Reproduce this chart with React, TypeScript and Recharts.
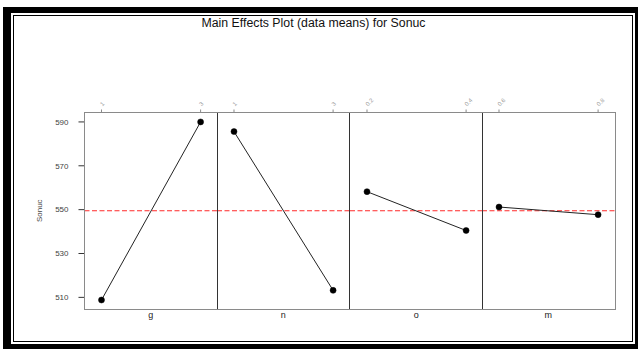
import React from 'react';
import { LineChart, Line, XAxis, YAxis, ReferenceLine } from 'recharts';

const factors = ['g', 'n', 'o', 'm'];
const gLevels = ['1', '3'];
const gMeans = [508.8, 590.0];
const nLevels = ['1', '3'];
const nMeans = [585.6, 513.2];
const oLevels = ['0.2', '0.4'];
const oMeans = [558.2, 540.5];
const mLevels = ['0.6', '0.8'];
const mMeans = [551.2, 547.7];
const grandMean = 549.5;
const yTicks = [510, 530, 550, 570, 590];
const yDomain = [504.7, 594.3];
const title = 'Main Effects Plot (data means) for Sonuc';
const yLabel = 'Sonuc';

const levelSets = [gLevels, nLevels, oLevels, mLevels];
const meanSets = [gMeans, nMeans, oMeans, mMeans];

const FONT = '"Liberation Sans", Arial, sans-serif';
const H = 349;
const plotTop = 112.5;
const plotBottom = 309;
const plotLeft = 84.5;
const panelW = 132.6;
const topAxisH = 30;
const bottomAxisH = 12;

const TopTick = (props: any) => {
  const { x, y, payload } = props;
  return (
    <text
      x={x + 1}
      y={y}
      transform={`rotate(-45 ${x + 1} ${y})`}
      fontSize={6}
      fill="#9a9a9a"
      fontFamily={FONT}
      textAnchor="start"
    >
      {payload.value}
    </text>
  );
};

function Panel({ idx }: { idx: number }) {
  const data = levelSets[idx].map((lv, i) => ({ level: lv, mean: meanSets[idx][i] }));
  const first = idx === 0;
  const width = first ? plotLeft + panelW : panelW;
  const left = first ? 0 : plotLeft + panelW * idx;
  return (
    <div style={{ position: 'absolute', left, top: 0 }}>
      <LineChart
        width={width}
        height={H}
        data={data}
        margin={{ top: plotTop - topAxisH, bottom: H - plotBottom - bottomAxisH, left: 0, right: 0 }}
      >
        <XAxis
          xAxisId="top"
          dataKey="level"
          orientation="top"
          type="category"
          interval={0}
          height={topAxisH}
          padding={{ left: 17, right: 16.5 }}
          axisLine={false}
          tickLine={{ stroke: '#8a8a8a' }}
          tickSize={3}
          tickMargin={3}
          tick={<TopTick />}
        />
        <XAxis
          xAxisId="bottom"
          dataKey="level"
          orientation="bottom"
          type="category"
          height={bottomAxisH}
          axisLine={false}
          tickLine={false}
          tick={false}
          label={{ value: factors[idx], position: 'center', fontSize: 9, fill: '#222', fontFamily: FONT }}
        />
        {first ? (
          <YAxis
            domain={yDomain}
            ticks={yTicks}
            type="number"
            width={plotLeft}
            axisLine={false}
            tickLine={{ stroke: '#333' }}
            tickSize={6}
            tickMargin={10}
            tick={{ fontSize: 8, fill: '#444', fontFamily: FONT }}
            label={{ value: yLabel, angle: -90, position: 'center', dx: -3, fontSize: 8, fill: '#444', fontFamily: FONT }}
          />
        ) : (
          <YAxis domain={yDomain} type="number" hide />
        )}
        <ReferenceLine
          xAxisId="top"
          y={grandMean}
          stroke="#ff2a2a"
          strokeWidth={1.2}
          strokeDasharray="5 2.5"
          ifOverflow="extendDomain"
        />
        <Line
          xAxisId="top"
          dataKey="mean"
          stroke="#222"
          strokeWidth={1}
          dot={{ r: 3, fill: '#000', stroke: '#000', strokeWidth: 0.5 }}
          isAnimationActive={false}
        />
      </LineChart>
    </div>
  );
}

export default function App() {
  return (
    <div
      style={{
        position: 'absolute',
        left: 0,
        top: 0,
        width: 638,
        height: 349,
        background: '#fff',
        fontFamily: FONT,
        overflow: 'hidden',
      }}
    >
      {/* outer thick frame */}
      <div
        style={{
          position: 'absolute',
          left: 3,
          top: 7,
          width: 635,
          height: 342,
          boxSizing: 'border-box',
          borderLeft: '8px solid #000',
          borderTop: '6px solid #000',
          borderRight: '3px solid #000',
          borderBottom: '5px solid #000',
        }}
      />
      {/* inner thin frame */}
      <div
        style={{
          position: 'absolute',
          left: 12.5,
          top: 15,
          width: 620.5,
          height: 327,
          boxSizing: 'border-box',
          border: '1.7px solid #000',
        }}
      />
      <div
        style={{
          position: 'absolute',
          left: 0,
          width: 627,
          top: 16,
          textAlign: 'center',
          fontSize: 12.3,
          color: '#111',
          whiteSpace: 'nowrap',
        }}
      >
        {title}
      </div>
      {[0, 1, 2, 3].map((i) => (
        <Panel key={i} idx={i} />
      ))}
      {/* plot frame */}
      <div
        style={{
          position: 'absolute',
          left: plotLeft - 0.75,
          top: plotTop - 0.75,
          width: panelW * 4 + 1.5,
          height: plotBottom - plotTop + 1.5,
          boxSizing: 'border-box',
          border: '1.5px solid #8a8a8a',
          pointerEvents: 'none',
        }}
      />
      {[1, 2, 3].map((i) => (
        <div
          key={i}
          style={{
            position: 'absolute',
            left: plotLeft + panelW * i - 0.5,
            top: plotTop,
            width: 1,
            height: plotBottom - plotTop,
            background: '#333',
          }}
        />
      ))}
    </div>
  );
}
